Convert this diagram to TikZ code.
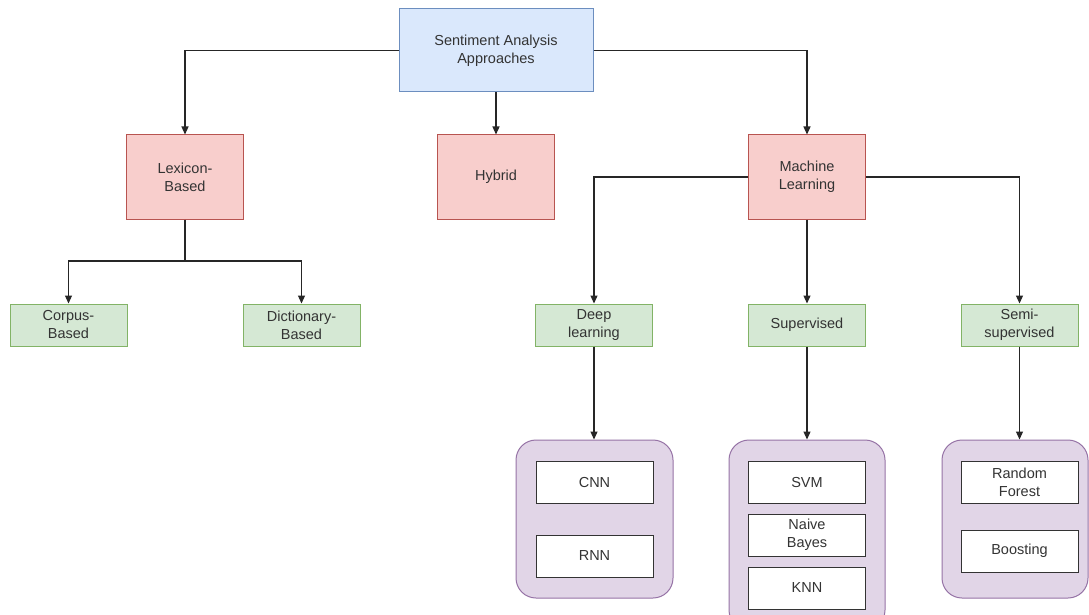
\documentclass[tikz,border=0pt]{standalone}
\usepackage{fontspec}
\setmainfont{Liberation Sans}
\usetikzlibrary{arrows.meta}
\definecolor{blueF}{HTML}{DAE8FC}\definecolor{blueD}{HTML}{6C8EBF}
\definecolor{redF}{HTML}{F8CECC}\definecolor{redD}{HTML}{B85450}
\definecolor{greenF}{HTML}{D5E8D4}\definecolor{greenD}{HTML}{82B366}
\definecolor{purpF}{HTML}{E1D5E7}\definecolor{purpD}{HTML}{9673A6}
\definecolor{txt}{HTML}{333333}
\begin{document}
\begin{tikzpicture}[x=1pt,y=-1pt,
  base/.style={draw,line width=1pt,align=center,text=txt,inner sep=0pt,
    font=\fontsize{14.5}{18}\selectfont},
  topbox/.style={base,fill=blueF,draw=blueD,minimum width=194pt,minimum height=83pt},
  catbox/.style={base,fill=redF,draw=redD,minimum width=117pt,minimum height=84pt},
  subbox/.style={base,fill=greenF,draw=greenD,minimum width=117pt,minimum height=42pt},
  grpbox/.style={draw=purpD,fill=purpF,line width=1pt,rounded corners=20pt,inner sep=0pt},
  itembox/.style={base,fill=white,draw=black!80,minimum width=117pt,minimum height=42pt},
  conn/.style={draw=black!85,line width=1.2pt,-{Triangle[length=8pt,width=7pt]}},
  plain/.style={draw=black!85,line width=1.2pt}]
\useasboundingbox (0,0) rectangle (1089,615);
\clip (0,0) rectangle (1089,615);
\fill[white] (0,0) rectangle (1089,615);

% groups (drawn first)
\node[grpbox,minimum width=157pt,minimum height=158pt] (dgrp) at (594.5,519) {};
\node[grpbox,minimum width=156pt,minimum height=190pt] (sgrp) at (807,535) {};
\node[grpbox,minimum width=146pt,minimum height=158pt] (mgrp) at (1015,519) {};

\node[topbox] (top) at (496,50.5) {Sentiment Analysis\\Approaches};
\node[catbox] (lex) at (185,177) {Lexicon-\\Based};
\node[catbox] (hyb) at (496,177) {Hybrid};
\node[catbox] (ml) at (807,177) {Machine\\Learning};

\node[subbox] (corp) at (68.5,325) {Corpus-\\Based};
\node[subbox] (dict) at (301.5,325) {Dictionary-\\Based};
\node[subbox] (deep) at (594,325) {Deep\\learning};
\node[subbox] (sup) at (807,325) {Supervised};
\node[subbox] (semi) at (1019.5,325) {Semi-\\supervised};

\node[itembox] (cnn) at (594.5,482.5) {CNN};
\node[itembox] (rnn) at (594.5,556) {RNN};
\node[itembox] (svm) at (807,482.5) {SVM};
\node[itembox] (nb) at (807,535) {Naive\\Bayes};
\node[itembox] (knn) at (807,588) {KNN};
\node[itembox] (rf) at (1019.5,482.5) {Random\\Forest};
\node[itembox] (boost) at (1019.5,551) {Boosting};

\coordinate (lexj) at (185,261);

\draw[conn] (top.west) -| (lex.north);
\draw[conn] (top.south) -- (hyb.north);
\draw[conn] (top.east) -| (ml.north);

\draw[plain] (lex.south) -- (lexj);
\draw[conn] (lexj) -| (corp.north);
\draw[conn] (lexj) -| (dict.north);

\draw[conn] (ml.west) -| (deep.north);
\draw[conn] (ml.south) -- (sup.north);
\draw[conn] (ml.east) -| (semi.north);

\draw[conn] (deep.south) -- (deep.south |- dgrp.north);
\draw[conn] (sup.south) -- (sgrp.north);
\draw[conn] (semi.south) -- (semi.south |- mgrp.north);
\end{tikzpicture}
\end{document}
